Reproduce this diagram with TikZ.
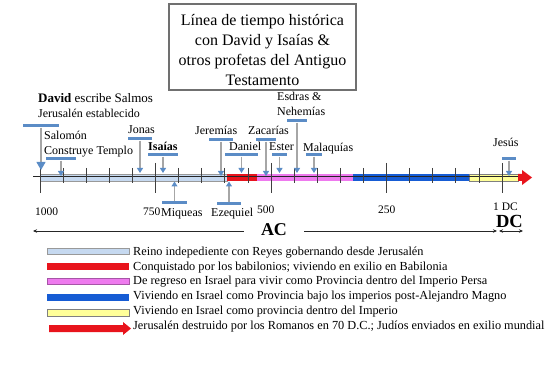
\documentclass[tikz,border=0pt]{standalone}
\usepackage{fontspec}
\setmainfont{Liberation Serif}
\usetikzlibrary{arrows.meta}
\definecolor{mblue}{HTML}{5B8CC6}
\definecolor{agray}{HTML}{A6A6A6}
\definecolor{lblue}{HTML}{C6D9F0}
\definecolor{bred}{HTML}{E8141C}
\definecolor{bpink}{HTML}{EE7AEE}
\definecolor{bblue}{HTML}{165CD4}
\definecolor{byellow}{HTML}{FFFF99}
\definecolor{tgray}{HTML}{707070}
\definecolor{tick}{HTML}{404040}
\begin{document}
\begin{tikzpicture}[x=1pt,y=-1pt,
  lbl/.style={anchor=west,inner sep=0pt,font=\fontsize{12}{14}\selectfont,text height=8.5pt,text depth=2.5pt},
  lgtxt/.style={anchor=west,inner sep=0pt,font=\fontsize{12.3}{14}\selectfont,text height=8.5pt,text depth=2.5pt},
  num/.style={anchor=west,inner sep=0pt,font=\fontsize{11.5}{13}\selectfont,text height=8pt,text depth=0pt},
  mk/.style={rectangle,fill=mblue,inner sep=0pt,minimum height=3pt},
  conn/.style={agray,line width=1.1pt,-{Triangle[length=5pt,width=6pt,color=mblue]}},
  bigconn/.style={agray,line width=1.1pt,-{Triangle[length=8pt,width=9pt,color=mblue]}},
  lgbox/.style={rectangle,inner sep=0pt,minimum width=82pt,minimum height=6.5pt},
  tk/.style={tick,line width=0.8pt}
]
\useasboundingbox (0,0) rectangle (550,369);

% title
\node[draw=tgray,line width=1.8pt,minimum width=187pt,minimum height=86pt,inner sep=0pt] (tbox) at (262.5,47) {};
\node[align=center,inner sep=0pt,font=\fontsize{16}{20}\selectfont] (title) at (262.5,50) {Línea de tiempo histórica\\con David y Isaías \&\\otros profetas del Antiguo\\Testamento};

% bars
\filldraw[fill=lblue,draw=gray!80] (40,174) rectangle (227,181);
\fill[bred] (227,174) rectangle (257,181);
\fill[bpink] (257,174) rectangle (353,181);
\fill[bblue] (353,174) rectangle (469,181);
\filldraw[fill=byellow,draw=gray] (469,174) rectangle (518,181);
\fill[bred] (518,174) -- (522,174) -- (522,170) -- (532,177.5) -- (522,185) -- (522,181) -- (518,181) -- cycle;
\draw[line width=0.8pt,black!85] (33,176.8) -- (518,176.8);

% ticks
\foreach \k in {1,2,3,4,6,7,8,9,11,12,13,14,16,17,18,19}
  \draw[tk] ({40+23.1*\k},168) -- ({40+23.1*\k},183);
\foreach \k in {0,5,10,15,20}
  \draw[tk] ({40+23.1*\k},163) -- ({40+23.1*\k},193);

% labels above
\node[lbl] (davA) at (38,100) {\fontsize{13}{14}\selectfont\textbf{David} escribe Salmos};
\node[lbl] (davB) at (38,115) {Jerusalén establecido};
\node[lbl] (salA) at (44,137) {Salomón};
\node[lbl] (salB) at (44,152) {Construye Templo};
\node[lbl] (jonL) at (128,131) {Jonas};
\node[lbl] (isaL) at (148,148) {\textbf{Isaías}};
\node[lbl] (jerL) at (195,132) {Jeremías};
\node[lbl] (danL) at (229,148) {Daniel};
\node[lbl] (zacL) at (248,132) {Zacarías};
\node[lbl] (estL) at (269,148) {Ester};
\node[lbl] (esdA) at (277,98) {Esdras \&};
\node[lbl] (esdB) at (277,113) {Nehemías};
\node[lbl] (malL) at (303,149) {Malaquías};
\node[lbl] (jesL) at (493,144) {Jesús};
\node[lbl] (miqL) at (161,214) {Miqueas};
\node[lbl] (ezeL) at (211,214) {Ezequiel};

% numbers
\node[num] (n1000) at (35,211) {1000};
\node[num] (n750) at (143,211) {750};
\node[num] (n500) at (257,210) {500};
\node[num] (n250) at (378,210) {250};
\node[num] (n1dc) at (493,207) {1 DC};

% markers
\node[mk,minimum width=36pt] (dav) at (41,126) {};
\node[mk,minimum width=30pt] (sal) at (61,159) {};
\node[mk,minimum width=24pt] (jon) at (140,139) {};
\node[mk,minimum width=30pt] (isa) at (163,155) {};
\node[mk,minimum width=24pt] (jer) at (221,140) {};
\node[mk,minimum width=33pt] (dan) at (241.5,155) {};
\node[mk,minimum width=20pt] (zac) at (266,140) {};
\node[mk,minimum width=15pt] (est) at (279.5,155) {};
\node[mk,minimum width=20pt] (esd) at (297,121) {};
\node[mk,minimum width=16pt] (mal) at (314,155) {};
\node[mk,minimum width=14pt] (jes) at (509,159) {};
\node[mk,minimum width=25pt] (miq) at (174.5,203) {};
\node[mk,minimum width=24pt] (eze) at (229,204) {};

\coordinate (davT) at (41,170);
\coordinate (salT) at (61,176);
\coordinate (jonT) at (140,173);
\coordinate (isaT) at (163,173);
\coordinate (jerT) at (221,176);
\coordinate (danT) at (241.5,173);
\coordinate (zacT) at (266,176);
\coordinate (estT) at (279.5,173);
\coordinate (esdT) at (297,173);
\coordinate (malT) at (314,173);
\coordinate (jesT) at (509,176);
\coordinate (miqT) at (174.5,181.5);
\coordinate (ezeT) at (229,181.5);

\draw[bigconn] (dav) -- (davT);
\foreach \n in {sal,jon,isa,jer,dan,zac,est,esd,mal,jes,miq,eze}
  \draw[conn] (\n) -- (\n T);

% AC / DC
\coordinate (acL) at (33,231);
\coordinate (acR) at (497,231);
\coordinate (dcL) at (499,231);
\coordinate (dcR) at (523,231);
\draw[black!85,line width=0.7pt,{Stealth[length=4pt,width=3.5pt]}-{Stealth[length=4pt,width=3.5pt]}] (acL) -- (acR);
\draw[black!85,line width=0.7pt,{Stealth[length=4pt,width=3.5pt]}-{Stealth[length=4pt,width=3.5pt]}] (dcL) -- (dcR);
\node[fill=white,inner sep=0pt,minimum width=60pt,minimum height=14pt,font=\bfseries\fontsize{18}{20}\selectfont] (ac) at (274,230) {AC};
\node[inner sep=0pt,font=\bfseries\fontsize{18.5}{20}\selectfont] (dc) at (509.5,221) {DC};

% legend
\node[lgbox,fill=lblue,draw=gray!80] (lg1) at (88,251) {};
\node[lgbox,fill=bred] (lg2) at (88,266.5) {};
\node[lgbox,fill=bpink,draw=bpink!70!black] (lg3) at (88,281) {};
\node[lgbox,fill=bblue] (lg4) at (88,297.5) {};
\node[lgbox,fill=byellow,draw=gray] (lg5) at (88,312.5) {};
\fill[bred] (49,325) -- (123,325) -- (123,322) -- (131,328.5) -- (123,335) -- (123,332) -- (49,332) -- cycle;

\node[lgtxt] (t1) at (133,252) {Reino indepediente con Reyes gobernando desde Jerusalén};
\node[lgtxt] (t2) at (133,267) {Conquistado por los babilonios; viviendo en exilio en Babilonia};
\node[lgtxt] (t3) at (133,281.5) {De regreso en Israel para vivir como Provincia dentro del Imperio Persa};
\node[lgtxt] (t4) at (133,296.5) {Viviendo en Israel como Provincia bajo los imperios post-Alejandro Magno};
\node[lgtxt] (t5) at (133,311) {Viviendo en Israel como provincia dentro del Imperio};
\node[lgtxt] (t6) at (133,326) {Jerusalén destruido por los Romanos en 70 D.C.; Judíos enviados en exilio mundial};
\end{tikzpicture}
\end{document}
